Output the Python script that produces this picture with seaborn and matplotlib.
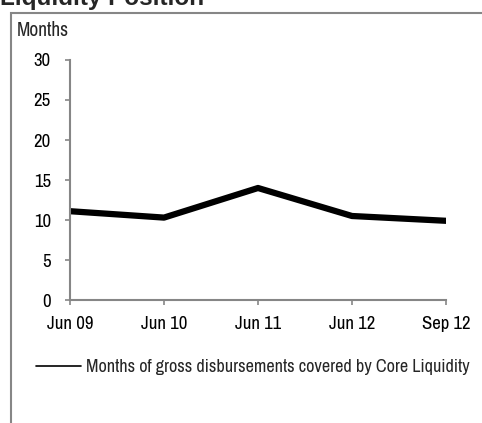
import matplotlib
matplotlib.use("Agg")
import matplotlib.pyplot as plt
import pandas as pd
import seaborn as sns
from matplotlib.lines import Line2D
from matplotlib.patches import Rectangle

# ── data ──────────────────────────────────────────────────────────────────────
periods = ["Jun 09", "Jun 10", "Jun 11", "Jun 12", "Sep 12"]
months_covered = [11.1, 10.3, 14.0, 10.5, 9.9]
y_ticks = [0, 5, 10, 15, 20, 25, 30]
series_label = "Months of gross disbursements covered by Core Liquidity"

df = pd.DataFrame({"period": periods, "months": months_covered})

sns.set_style("white")
plt.rcParams["font.family"] = ["Liberation Sans Narrow", "Archivo Narrow", "DejaVu Sans"]

W, H = 482, 423
FS = 13.5
fig = plt.figure(figsize=(W / 100, H / 100), dpi=100)
ax = fig.add_axes([70 / W, 1 - 300 / H, (446 - 70) / W, (300 - 60) / H])

sns.lineplot(data=df, x="period", y="months", color="black", linewidth=4.5,
             sort=False, ax=ax)

grey = "#868686"
ax.set_xlim(0, len(periods) - 1)
ax.set_ylim(0, 30)
ax.set_yticks(y_ticks)
ax.set_xlabel("")
ax.set_ylabel("")
for side in ("top", "right"):
    ax.spines[side].set_visible(False)
for side in ("left", "bottom"):
    ax.spines[side].set_color(grey)
    ax.spines[side].set_linewidth(1.5)
ax.tick_params(axis="both", direction="out", length=3.8, width=1.2, color=grey,
               labelsize=FS, labelcolor="black", left=True, bottom=True)
ax.tick_params(axis="y", pad=10)
ax.tick_params(axis="x", pad=8)

# frame around the chart (cut off at right and bottom)
fig.patches.append(Rectangle((11 / W, -0.1), 1.2, 1 - 13 / H + 0.1,
                             transform=fig.transFigure, fill=False,
                             edgecolor=grey, linewidth=1.5))

fig.text(0.0, 1 - 5.5 / H, "Liquidity Position",
         family=["Liberation Sans", "DejaVu Sans"],
         fontsize=17.5, fontweight="bold", ha="left", va="baseline")
fig.text(17 / W, 1 - 30 / H, "Months", fontsize=14, ha="left", va="center")

handle = Line2D([], [], color="black", linewidth=1.2)
fig.legend([handle], [series_label], loc="center left",
           bbox_to_anchor=(29 / W, 1 - 367 / H), frameon=False, fontsize=13.1,
           handlelength=2.45, handletextpad=0.28, borderaxespad=0)

fig.savefig("out.png", dpi=100)
